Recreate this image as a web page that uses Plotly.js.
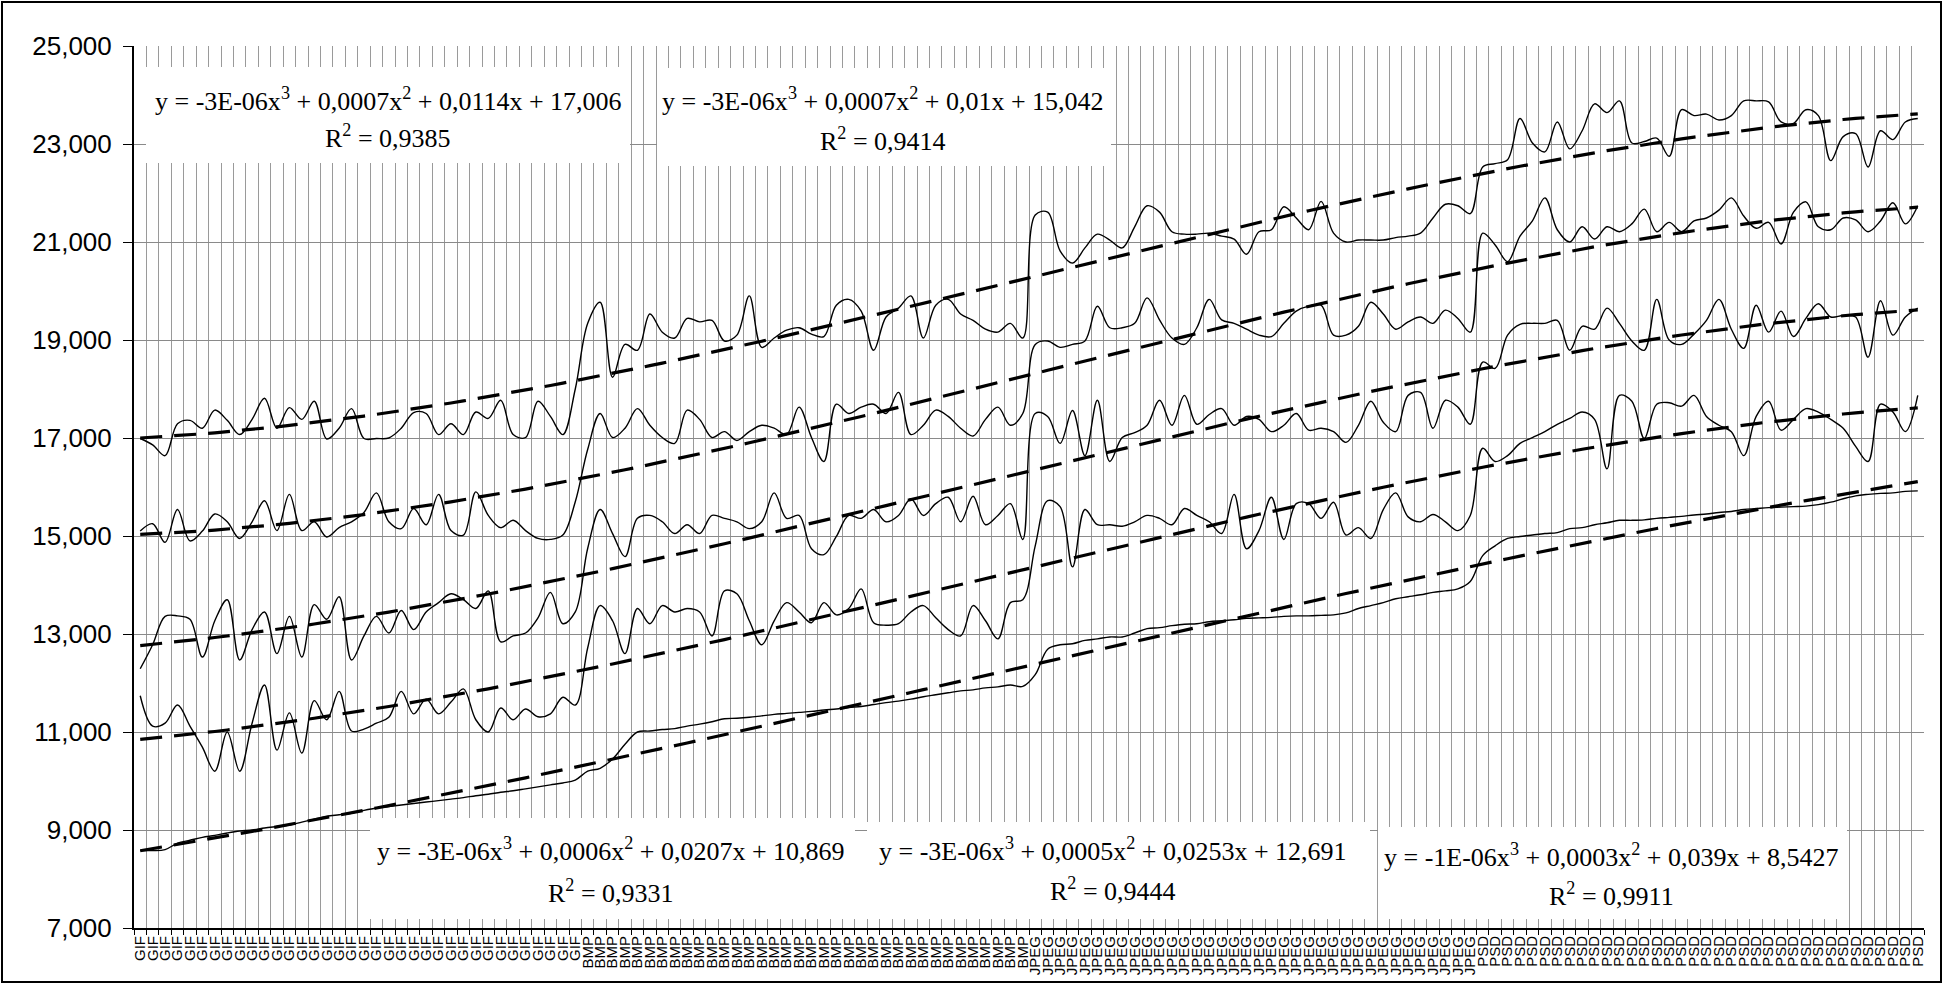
<!DOCTYPE html>
<html><head><meta charset="utf-8">
<script src="https://cdn.plot.ly/plotly-3.0.1.min.js"></script>
<style>
html,body{margin:0;padding:0;background:#fff;overflow:hidden}
#wrap{position:relative;width:1943px;height:984px}
#chart{width:1943px;height:984px}
#frame{position:absolute;left:1px;top:1px;width:1937px;height:978px;border:2px solid #000;pointer-events:none}
</style></head><body>
<div id="wrap"><div id="chart"></div><div id="frame"></div></div>
<script>
// ---- category groups (x axis) ----
const groupNames = ['GIF', 'BMP', 'JPEG', 'PSD'];
const groupSizes = [36, 36, 36, 36];

// ---- series values ----
const series1 = [
 16.99,16.86,16.64,17.29,17.36,17.2,17.57,17.36,17.07,17.38,17.81,17.2,17.62,17.38,17.75,16.98,17.2,17.6,16.99,16.99,17.0,17.2,17.52,17.5,
 17.07,17.29,17.07,17.53,17.4,17.77,17.07,17.01,17.75,17.44,17.07,18.0,19.34,19.77,18.24,18.91,18.79,19.53,19.16,19.04,19.44,19.37,19.4,18.98,
 19.1,19.9,18.85,19.04,19.2,19.25,19.12,19.07,19.71,19.83,19.59,18.79,19.47,19.65,19.9,19.04,19.71,19.83,19.53,19.4,19.22,19.16,19.34,19.04,
 21.55,21.61,20.82,20.57,20.88,21.16,21.04,20.88,21.31,21.74,21.61,21.21,21.16,21.16,21.18,21.12,21.06,20.75,21.21,21.25,21.72,21.49,21.25,21.83,
 21.18,21.0,21.04,21.04,21.04,21.09,21.12,21.18,21.49,21.77,21.74,21.58,22.53,22.6,22.68,23.52,23.02,22.84,23.45,22.9,23.27,23.82,23.64,23.88,
 23.02,23.05,23.12,22.75,23.7,23.58,23.61,23.49,23.58,23.88,23.88,23.86,23.45,23.42,23.7,23.58,22.66,23.15,23.21,22.53,23.27,23.09,23.45,23.52
];
const series2 = [
 15.1,15.25,14.87,15.54,14.9,15.1,15.45,15.29,14.95,15.29,15.72,15.11,15.85,15.11,15.29,14.98,15.17,15.29,15.48,15.88,15.29,15.15,15.56,15.23,
 15.85,15.11,15.02,15.9,15.42,15.17,15.32,15.11,14.95,14.93,15.02,15.7,16.77,17.5,17.01,17.2,17.6,17.26,17.01,16.89,17.57,17.38,17.01,17.13,
 16.95,17.13,17.26,17.2,17.07,17.63,17.01,16.52,17.69,17.5,17.63,17.69,17.5,17.93,17.07,17.26,17.57,17.44,17.2,17.04,17.38,17.63,17.26,17.5,
 18.91,18.98,18.85,18.91,18.98,19.69,19.25,19.25,19.34,19.86,19.41,19.04,18.91,19.25,19.83,19.41,19.34,19.22,19.1,19.07,19.34,19.59,19.69,19.71,
 19.1,19.1,19.28,19.77,19.53,19.22,19.37,19.47,19.34,19.61,19.44,19.16,21.18,20.94,20.6,21.12,21.43,21.9,21.25,21.0,21.31,21.06,21.31,21.21,
 21.37,21.67,21.21,21.4,21.21,21.43,21.49,21.65,21.9,21.53,21.28,21.4,20.96,21.61,21.82,21.31,21.25,21.49,21.45,21.21,21.43,21.8,21.37,21.74
];
const series3 = [
 12.29,12.78,13.36,13.37,13.3,12.53,13.27,13.7,12.47,13.09,13.45,12.6,13.36,12.53,13.6,13.3,13.76,12.47,12.96,13.36,13.02,13.48,13.09,13.45,
 13.64,13.82,13.7,13.52,13.88,12.84,12.96,13.02,13.33,13.85,13.21,13.45,14.75,15.54,15.05,14.58,15.36,15.42,15.29,15.05,15.23,15.05,15.42,15.36,
 15.29,15.15,15.29,15.88,15.36,15.42,14.74,14.62,14.99,15.42,15.36,15.54,15.29,15.42,15.76,15.42,15.66,15.79,15.29,15.81,15.23,15.42,15.66,14.93,
 17.5,17.44,16.89,17.56,16.64,17.77,16.52,17.01,17.11,17.26,17.77,17.26,17.87,17.28,17.48,17.6,17.26,17.44,17.38,17.13,17.26,17.5,17.16,17.2,
 17.13,16.91,17.26,17.75,17.32,17.13,17.87,17.93,17.2,17.77,17.63,17.28,18.55,18.42,19.1,19.32,19.34,19.34,19.4,18.79,19.28,19.22,19.65,19.34,
 18.98,18.79,19.83,19.0,18.91,19.12,19.4,19.83,19.22,18.83,19.71,19.16,19.59,19.07,19.44,19.74,19.47,19.5,19.47,18.65,19.8,19.1,19.47,19.65
];
const series4 = [
 11.74,11.12,11.18,11.55,11.12,10.69,10.2,11.0,10.2,11.18,11.96,10.63,11.39,10.57,11.64,11.25,11.83,11.02,11.06,11.18,11.3,11.83,11.37,11.67,
 11.37,11.61,11.88,11.25,11.0,11.49,11.25,11.47,11.31,11.37,11.71,11.55,12.72,13.58,13.27,12.6,13.52,13.21,13.58,13.45,13.52,13.45,12.96,13.88,
 13.82,13.27,12.78,13.27,13.64,13.45,13.23,13.64,13.39,13.52,13.92,13.23,13.18,13.21,13.45,13.58,13.33,13.09,12.96,13.58,13.27,12.9,13.64,13.7,
 14.8,15.72,15.6,14.37,15.54,15.23,15.23,15.2,15.29,15.42,15.36,15.23,15.56,15.42,15.29,15.05,15.85,14.74,15.11,15.79,14.93,15.66,15.66,15.36,
 15.69,15.02,15.17,14.95,15.54,15.88,15.39,15.29,15.44,15.29,15.11,15.42,16.79,16.52,16.64,16.89,17.01,17.13,17.28,17.4,17.53,17.38,16.37,17.87,
 17.75,16.99,17.69,17.72,17.65,17.87,17.44,17.26,17.13,16.64,17.44,17.75,17.16,17.38,17.6,17.53,17.38,17.2,16.83,16.52,17.69,17.53,17.13,17.87
];
const series5 = [
 8.58,8.58,8.6,8.73,8.79,8.85,8.89,8.94,8.98,9.0,9.04,9.07,9.1,9.16,9.22,9.28,9.31,9.34,9.4,9.45,9.48,9.51,9.54,9.57,
 9.6,9.63,9.66,9.7,9.73,9.77,9.8,9.84,9.88,9.92,9.96,10.02,10.2,10.26,10.45,10.75,11.0,11.02,11.05,11.07,11.12,11.16,11.21,11.27,
 11.28,11.3,11.33,11.36,11.38,11.4,11.42,11.45,11.47,11.5,11.52,11.56,11.6,11.63,11.67,11.72,11.76,11.8,11.84,11.86,11.9,11.92,11.96,11.93,
 12.17,12.69,12.78,12.8,12.87,12.9,12.94,12.94,13.02,13.11,13.13,13.17,13.2,13.21,13.25,13.27,13.29,13.32,13.33,13.34,13.36,13.37,13.37,13.38,
 13.39,13.43,13.52,13.58,13.64,13.72,13.76,13.8,13.85,13.88,13.92,14.07,14.6,14.8,14.95,14.99,15.02,15.05,15.07,15.15,15.17,15.23,15.27,15.32,
 15.32,15.33,15.36,15.38,15.4,15.43,15.45,15.48,15.5,15.54,15.56,15.58,15.59,15.6,15.61,15.64,15.69,15.76,15.82,15.85,15.87,15.88,15.91,15.92
];

// ---- trendline equation labels ----
const eqTexts = [
 'y = -3E-06x<sup>3</sup> + 0,0007x<sup>2</sup> + 0,0114x + 17,006',
 'y = -3E-06x<sup>3</sup> + 0,0007x<sup>2</sup> + 0,01x + 15,042',
 'y = -3E-06x<sup>3</sup> + 0,0006x<sup>2</sup> + 0,0207x + 10,869',
 'y = -3E-06x<sup>3</sup> + 0,0005x<sup>2</sup> + 0,0253x + 12,691',
 'y = -1E-06x<sup>3</sup> + 0,0003x<sup>2</sup> + 0,039x + 8,5427'
];
const r2Texts = ['R<sup>2</sup> = 0,9385','R<sup>2</sup> = 0,9414','R<sup>2</sup> = 0,9331','R<sup>2</sup> = 0,9444','R<sup>2</sup> = 0,9911'];

// ---- build category labels & positions ----
const labels = [];
groupNames.forEach((g, k) => { for (let i = 0; i < groupSizes[k]; i++) labels.push(g); });
const idx = labels.map((_, i) => i);

// least squares cubic trend (like the spreadsheet's polynomial trendline)
function cubicTrend(ys) {
  const n = ys.length, m = (n + 1) / 2, s = (n - 1) / 2;
  const t = ys.map((_, i) => ((i + 1) - m) / s);
  const A = [[0,0,0,0],[0,0,0,0],[0,0,0,0],[0,0,0,0]], b = [0,0,0,0];
  for (let k = 0; k < n; k++) {
    const p = [1, t[k], t[k]*t[k], t[k]*t[k]*t[k]];
    for (let i = 0; i < 4; i++) { b[i] += p[i]*ys[k]; for (let j = 0; j < 4; j++) A[i][j] += p[i]*p[j]; }
  }
  for (let c = 0; c < 4; c++) {
    let piv = c; for (let r = c+1; r < 4; r++) if (Math.abs(A[r][c]) > Math.abs(A[piv][c])) piv = r;
    [A[c], A[piv]] = [A[piv], A[c]]; [b[c], b[piv]] = [b[piv], b[c]];
    for (let r = 0; r < 4; r++) if (r !== c) {
      const f = A[r][c] / A[c][c];
      for (let j = c; j < 4; j++) A[r][j] -= f*A[c][j];
      b[r] -= f*b[c];
    }
  }
  const co = b.map((v, i) => v / A[i][i]);
  return t.map(x => co[0] + co[1]*x + co[2]*x*x + co[3]*x*x*x);
}

const allSeries = [series1, series2, series3, series4, series5];
const traces = [];
allSeries.forEach((ys, k) => {
  traces.push({x: idx, y: ys, type: 'scatter', mode: 'lines', name: 'series' + (k+1),
    line: {color: '#000', width: 1.4, shape: 'spline', smoothing: 1}, hoverinfo: 'skip', showlegend: false});
});
allSeries.forEach((ys, k) => {
  traces.push({x: idx, y: cubicTrend(ys), type: 'scatter', mode: 'lines', name: 'trend' + (k+1),
    line: {color: '#000', width: 3.2, dash: '22px,12px'}, hoverinfo: 'skip', showlegend: false});
});

// ---- layout geometry (pixels) ----
const W = 1943, H = 984, L = 134, R = 19, T = 46, B = 56;
const PW = W - L - R, PH = H - T - B;
const px = v => (v - L) / PW;
const py = v => 1 - (v - T) / PH;

const boxes = [
  {x0: 146, x1: 630, y0: 67, y1: 163, cx: 388, ey: 100, ry: 137},
  {x0: 657, x1: 1111, y0: 68, y1: 166, cx: 883, ey: 100, ry: 139},
  {x0: 370, x1: 855, y0: 818, y1: 919, cx: 611, ey: 849, ry: 891},
  {x0: 867, x1: 1370, y0: 822, y1: 919, cx: 1113, ey: 849, ry: 889},
  {x0: 1378, x1: 1847, y0: 827, y1: 919, cx: 1611, ey: 855, ry: 894}
];
const shapes = boxes.map(b => ({type: 'rect', xref: 'paper', yref: 'paper', layer: 'above',
  x0: px(b.x0), x1: px(b.x1), y0: py(b.y1), y1: py(b.y0), fillcolor: '#fff', line: {width: 0}}));
const eqFont = {family: 'Liberation Serif, Times New Roman, serif', size: 26, color: '#000'};
const annotations = [];
boxes.forEach((b, k) => {
  annotations.push({xref: 'paper', yref: 'paper', x: px(b.cx), y: py(b.ey), text: eqTexts[k],
    showarrow: false, xanchor: 'center', yanchor: 'middle', font: eqFont});
  annotations.push({xref: 'paper', yref: 'paper', x: px(b.cx), y: py(b.ry), text: r2Texts[k],
    showarrow: false, xanchor: 'center', yanchor: 'middle', font: eqFont});
});

const layout = {
  width: W, height: H, margin: {l: L, r: R, t: T, b: B, pad: 0},
  paper_bgcolor: '#fff', plot_bgcolor: '#fff', showlegend: false,
  separators: ',.',
  xaxis: {range: [-0.5, idx.length - 0.5], tickmode: 'array', tickvals: idx, ticktext: labels,
    tickangle: -90, ticks: '', showgrid: false, zeroline: false, showline: true, linecolor: '#000', linewidth: 2,
    tickfont: {family: 'Liberation Sans, Arial, sans-serif', size: 15, color: '#000'},
    minor: {tickmode: 'linear', tick0: -0.5, dtick: 1, ticks: 'outside', ticklen: 5, tickcolor: '#000', tickwidth: 1,
      showgrid: true, gridcolor: '#9a9a9a', gridwidth: 1}},
  yaxis: {range: [7, 25], tickmode: 'linear', tick0: 7, dtick: 2, tickformat: '.3f',
    ticks: 'outside', ticklen: 9, tickcolor: '#000', tickwidth: 1, ticklabelstandoff: 6,
    showline: true, linecolor: '#000', linewidth: 2, showgrid: true, gridcolor: '#8a8a8a', gridwidth: 1, zeroline: false,
    tickfont: {family: 'Liberation Sans, Arial, sans-serif', size: 26, color: '#000'}},
  shapes: shapes, annotations: annotations
};
Plotly.newPlot('chart', traces, layout, {displayModeBar: false, staticPlot: true});
</script>
</body></html>
